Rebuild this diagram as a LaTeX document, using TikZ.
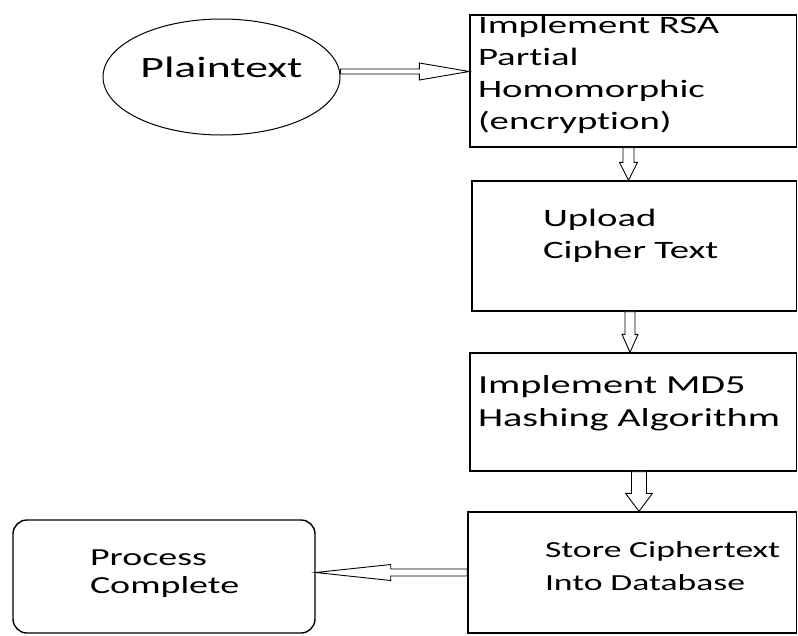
\documentclass[tikz,border=0pt]{standalone}
\usepackage{fontspec}
\setmainfont[FakeStretch=1.55, Ligatures=NoCommon]{Carlito}
\usetikzlibrary{shapes.geometric,calc}
\hyphenpenalty=10000

% Hollow block arrows: #1 start, #2 tip, #3 shaft half width, #4 head half width, #5 head length
\newcommand{\vblock}[5]{%
  \draw[blockarrow] let \p1=(#1), \p2=(#2) in
    ({\x1-(#3)},\y1) -- ({\x1-(#3)},{\y2+(#5)}) -- ({\x1-(#4)},{\y2+(#5)}) -- (\x1,\y2)
    -- ({\x1+(#4)},{\y2+(#5)}) -- ({\x1+(#3)},{\y2+(#5)}) -- ({\x1+(#3)},\y1) -- cycle;}
\newcommand{\hblock}[5]{%
  \draw[blockarrow] let \p1=(#1), \p2=(#2) in
    (\x1,{\y1+(#3)}) -- ({\x2-(#5)},{\y1+(#3)}) -- ({\x2-(#5)},{\y1+(#4)}) -- (\x2,\y1)
    -- ({\x2-(#5)},{\y1-(#4)}) -- ({\x2-(#5)},{\y1-(#3)}) -- (\x1,{\y1-(#3)}) -- cycle;}

\begin{document}
\begin{tikzpicture}[
    x=1pt, y=-1pt,
    box/.style = {
        rectangle,
        draw=black,
        line width=1.4pt,
        inner sep=0pt,
        align=left,
        text height=0pt,
        font=\fontsize{25}{32}\selectfont
    },
    endbox/.style    = {box, rounded corners=14pt, font=\fontsize{24.5}{27.5}\selectfont},
    startnode/.style = {ellipse, draw=black, line width=1pt, inner sep=0pt,
                        text height=0pt, text depth=0pt,
                        font=\fontsize{29.5}{35}\selectfont},
    blockarrow/.style = {draw=black, fill=white, line width=0.9pt, line join=miter}
]
\useasboundingbox (0,0) rectangle (798,635);

% Input
\node[startnode, minimum width=237pt, minimum height=116pt] (plain) at (221.5,77) {Plaintext};

% Right column, top to bottom (text depth sets where the first line sits)
\node[box, minimum width=326.5pt, minimum height=132pt, text width=310.5pt, text depth=96pt] (rsa) at (633.25,81) {
    Implement~RSA\\
    Partial\\
    Homomorphic\\
    (encryption)
};

\node[box, minimum width=324.5pt, minimum height=130pt, text width=182.5pt, text depth=40pt] (upload) at (634.25,246) {
    Upload\\
    Cipher~Text
};

\node[box, minimum width=326.5pt, minimum height=118pt, text width=310.5pt, text depth=38pt,
      font=\fontsize{26}{33}\selectfont] (md5) at (633.25,412) {
    Implement~MD5\\
    Hashing~Algorithm
};

\node[box, minimum width=328.5pt, minimum height=121pt, text width=174.5pt, text depth=31pt,
      font=\fontsize{23}{33}\selectfont] (store) at (632.25,572.5) {
    Store~Ciphertext\\
    Into~Database
};

% Output
\node[endbox, minimum width=302pt, minimum height=113pt, text width=148pt, text depth=22pt] (done) at (164,576.5) {
    Process\\
    Complete
};

% Arrows
\hblock{[yshift=5.5pt]plain.east}{rsa.west}{2.5pt}{8.5pt}{50pt}
\vblock{[xshift=-4.75pt]rsa.south}{upload.north}{5.5pt}{9pt}{18pt}
\vblock{[xshift=-4.25pt]upload.south}{md5.north}{5pt}{8pt}{18pt}
\vblock{[xshift=5.75pt]md5.south}{store.north}{7.5pt}{13.5pt}{18pt}
\hblock{store.west}{done.east}{3.5pt}{8pt}{-75pt}

\end{tikzpicture}
\end{document}
